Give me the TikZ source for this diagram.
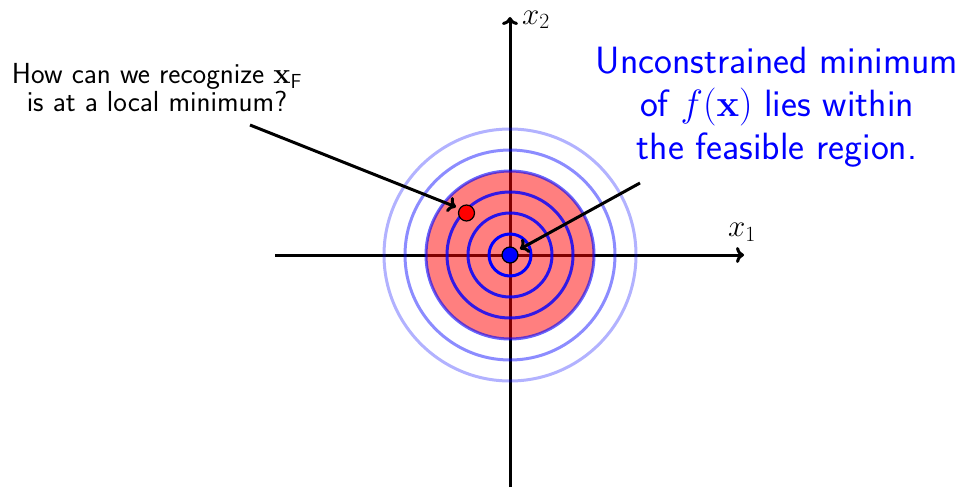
\RequirePackage{fix-cm}
\documentclass[tikz,border=0pt]{standalone}
\usepackage{amsmath}
\usetikzlibrary{arrows.meta}
\begin{document}
\begin{tikzpicture}[x=1pt,y=-1pt,
  axis/.style={line width=3pt,-{To[length=8pt,width=16pt]}},
  ring/.style={blue,line width=3pt},
  dot/.style={circle,draw=black,line width=1.2pt,inner sep=0pt,minimum size=16pt},
  note/.style={line width=3pt,-{To[length=8pt,width=16pt]}},
  lbl/.style={font=\fontsize{31}{36}\selectfont, inner sep=0pt}]
\useasboundingbox (0,0) rectangle (963,487);
\coordinate (O) at (510,255);
\coordinate (xs) at (275,255); \coordinate (xe) at (744,255);
\coordinate (ys) at (510,487); \coordinate (ye) at (510,17);
\draw[axis] (xs) -- (xe);
\draw[axis] (ys) -- (ye);
\node[lbl,anchor=west] (x2) at (522,20) {$x_2$};
\node[lbl] (x1) at (742,232) {$x_1$};
\fill[red,opacity=0.5] (O) circle[radius=84];
\draw[ring,opacity=0.3] (O) circle[radius=126];
\draw[ring,opacity=0.45] (O) circle[radius=105];
\draw[ring,opacity=0.6] (O) circle[radius=84];
\draw[ring,opacity=0.8] (O) circle[radius=63];
\draw[ring,opacity=0.85] (O) circle[radius=42];
\draw[ring] (O) circle[radius=21];
\node[dot,fill=blue] (xmin) at (O) {};
\node[dot,fill=red] (xF) at (466.5,213) {};
\node[lbl,align=center,font=\sffamily\fontsize{29}{28}\selectfont] (q) at (157,88)
  {How can we recognize $\mathbf{x}_{\mathsf{F}}$\\ is at a local minimum?};
\node[lbl,align=center,text=blue,font=\sffamily\fontsize{38}{43}\selectfont] (u) at (777,107)
  {Unconstrained minimum\\ of $f(\mathbf{x})$ lies within\\ the feasible region.};
\coordinate (qa) at (250,125);
\coordinate (ua) at (640,183);
\draw[note] (qa) -- (456,207);
\draw[note] (ua) -- (520,249);
\end{tikzpicture}
\end{document}
